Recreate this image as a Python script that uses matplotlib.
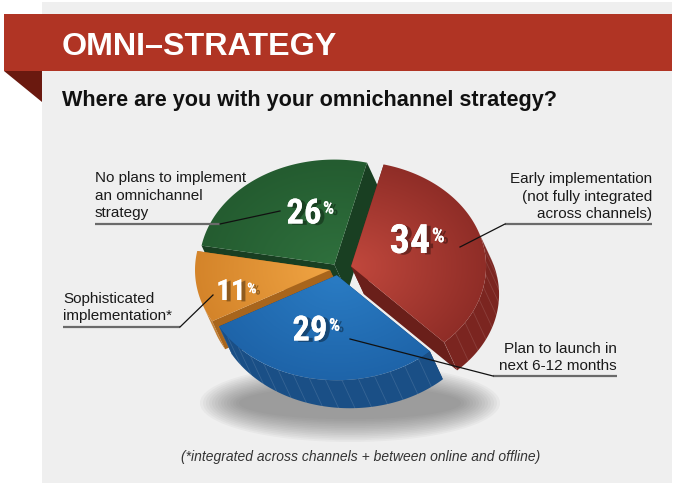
import numpy as np
import matplotlib
matplotlib.use("Agg")
import matplotlib.pyplot as plt
import matplotlib.colors as mcolors
import matplotlib.patheffects as pe
from matplotlib.patches import Polygon, Rectangle, Ellipse
from matplotlib import font_manager

# data, clockwise from the top of the red slice
labels = ["Early implementation\n(not fully integrated\nacross channels)",
          "Plan to launch in\nnext 6-12 months",
          "Sophisticated\nimplementation*",
          "No plans to implement\nan omnichannel\nstrategy"]
shares = [34, 29, 11, 26]
explode = [0.10, 0.06, 0.06, 0.05]
top_in = ["#c1483d", "#2a7cc4", "#f0a443", "#2f703d"]
top_out = ["#8f2d27", "#1e64a9", "#d4842a", "#245c30"]
wall_col = ["#7b2520", "#1a4f86", "#bd7322", "#1d4a27"]
face_col = ["#6a1f1a", "#163f6b", "#a8651c", "#193f22"]
title = "OMNI–STRATEGY"
subtitle = "Where are you with your omnichannel strategy?"
footnote = "(*integrated across channels + between online and offline)"

names = {f.name for f in font_manager.fontManager.ttflist}
cond = "Liberation Sans"
for cand in ["Liberation Sans Narrow", "Roboto Condensed", "Open Sans Condensed"]:
    if cand in names:
        cond = cand
        break
plain = "Liberation Sans"

fig = plt.figure(figsize=(6.8, 4.89), dpi=100)
ax = fig.add_axes([0, 0, 1, 1])
ax.axis("off")

# panel and banner
ax.add_patch(Rectangle((42, 3), 630, 481, color="#efefef", lw=0, zorder=0))
ax.add_patch(Rectangle((4, 15), 668, 57, color="#b03424", lw=0, zorder=1))
ax.add_patch(Polygon([(4, 72), (42, 72), (42, 103)], color="#6a190f", lw=0, zorder=1))
ax.text(62, 55, title, fontsize=23.2, weight="bold", color="white", family=plain, va="baseline", zorder=2)
ax.text(62, 106, subtitle, fontsize=15.6, weight="bold", color="#111111", family=plain, va="baseline", zorder=2)
ax.text(361, 457, footnote, fontsize=10, style="italic", color="#333333", family=plain,
        ha="center", va="center", zorder=2)

# soft shadow under the pie
for k in range(14):
    ax.add_patch(Ellipse((350, 404), 300 - k * 6, 78 - k * 3.5, color="#5a5a5a", alpha=0.05, lw=0, zorder=2))

# pie geometry (tilted disc)
cx, cy, rx, ry = 338, 270, 135, 105
D = np.array([13.0, 28.0])
t0 = np.degrees(np.arctan2(D[0] * ry, D[1] * rx))
vis = (t0 - 180, t0)
start = 76


def ell(t, off):
    t = np.radians(t)
    return np.column_stack([cx + off[0] + rx * np.cos(t), cy + off[1] - ry * np.sin(t)])


slices = []
a = start
for i, s in enumerate(shares):
    b = a - s * 3.6
    mid = np.radians((a + b) / 2)
    off = (explode[i] * rx * np.cos(mid), -explode[i] * ry * np.sin(mid))
    slices.append((b, a, off))
    a = b

order = [3, 2, 0, 1]  # back to front
z = 3
for i in order:
    lo, hi, off = slices[i]
    apex = np.array([cx + off[0], cy + off[1]])
    # radial faces
    for edge in (lo, hi):
        p = ell(np.array([edge]), off)[0]
        ax.add_patch(Polygon([apex, p, p + D, apex + D], closed=True, color=face_col[i], lw=0, zorder=z))
    z += 1
    # outer wall, only the part facing the viewer
    for k in (-1, 0, 1):
        w0 = max(lo, vis[0] + 360 * k)
        w1 = min(hi, vis[1] + 360 * k)
        if w1 > w0:
            ts = np.linspace(w0, w1, 80)
            top = ell(ts, off)
            ax.add_patch(Polygon(np.vstack([top, (top + D)[::-1]]), closed=True,
                                 color=wall_col[i], lw=0, zorder=z))
            for tt in np.arange(w0, w1, 7):
                p = ell(np.array([tt]), off)[0]
                ax.plot([p[0], p[0] + D[0]], [p[1], p[1] + D[1]], color="white", alpha=0.12, lw=0.6, zorder=z)
    z += 1
    # top face with a radial gradient
    arc = ell(np.linspace(lo, hi, 120), off)
    poly = np.vstack([apex, arc])
    x0, y0 = poly.min(axis=0) - 2
    x1, y1 = poly.max(axis=0) + 2
    X, Y = np.meshgrid(np.arange(x0, x1), np.arange(y0, y1))
    r = np.clip(np.hypot((X - apex[0]) / rx, (Y - apex[1]) / ry), 0, 1)[..., None]
    img = np.array(mcolors.to_rgb(top_in[i])) * (1 - r) + np.array(mcolors.to_rgb(top_out[i])) * r
    im = ax.imshow(img, extent=(x0, x1, y1, y0), aspect="auto", interpolation="bilinear", zorder=z)
    patch = Polygon(poly, closed=True, facecolor="none", edgecolor="none", zorder=z)
    ax.add_patch(patch)
    im.set_clip_path(patch)
    z += 1

# percentage labels
num_pos = [(410, 243), (310, 332), (231, 293), (304, 215)]
num_size = [29, 25, 21, 25]
shadow = [pe.withSimplePatchShadow(offset=(3, -1), shadow_rgbFace="black", alpha=0.35), pe.Normal()]
for i, s in enumerate(shares):
    t = ax.text(num_pos[i][0], num_pos[i][1], str(s), fontsize=num_size[i], weight="bold", color="white",
                family=cond, ha="center", va="center", zorder=20, path_effects=shadow)
    ax.annotate("%", xy=(1, 1), xycoords=t, xytext=(1, -3), textcoords="offset points",
                fontsize=num_size[i] * 0.5, weight="bold", color="white", family=cond,
                ha="left", va="top", zorder=20, path_effects=shadow)

# callout labels, underlines and leader lines
lab_pos = [(652, 221, "right"), (617, 373, "right"), (63, 323, "left"), (95, 220, "left")]
under = [((505, 652), 225), ((493, 617), 377), ((63, 180), 328), ((95, 220), 225)]
leader = [((505, 225), (460, 248)), ((493, 377), (350, 340)), ((180, 328), (213, 296)), ((220, 225), (280, 212))]
for i, lab in enumerate(labels):
    x, y, ha = lab_pos[i]
    ax.text(x, y, lab, fontsize=11, color="#1a1a1a", family=plain, ha=ha, va="bottom",
            linespacing=1.3, zorder=21)
    (u0, u1), uy = under[i]
    ax.plot([u0, u1], [uy, uy], color="#6a6a6a", lw=1.6, zorder=21, solid_capstyle="butt")
    (p0, p1) = leader[i]
    ax.plot([p0[0], p1[0]], [p0[1], p1[1]], color="#111111", lw=0.9, zorder=21)

ax.set_xlim(0, 680)
ax.set_ylim(489, 0)
fig.savefig("out.png", dpi=100, facecolor="white")
